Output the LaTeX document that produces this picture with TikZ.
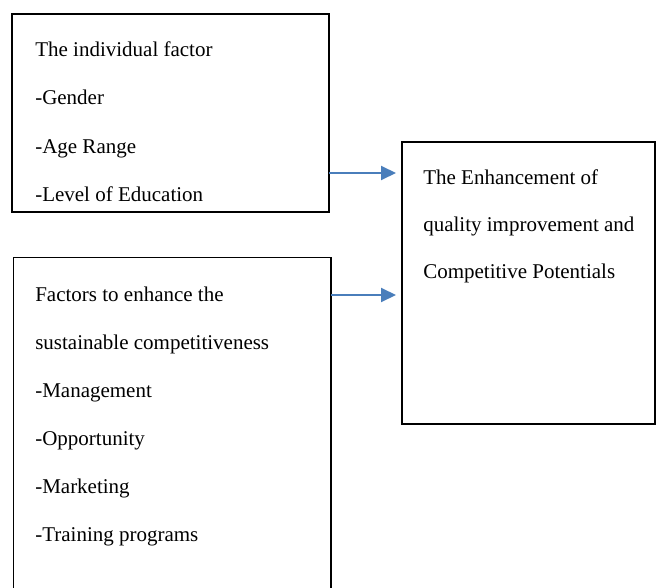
\documentclass[tikz,border=0pt]{standalone}
\usepackage{fontspec}
\setmainfont{Liberation Serif}
\usetikzlibrary{arrows.meta}
\definecolor{arrowblue}{RGB}{74,126,187}
\begin{document}
\begin{tikzpicture}[x=0.75pt,y=-0.75pt,
  box/.style={draw=black,line width=1pt,inner sep=0pt,outer sep=0pt,anchor=north west},
  txt/.style={anchor=base west,inner sep=0pt,font=\fontsize{15.75pt}{18pt}\selectfont},
  conn/.style={draw=arrowblue,line width=1.5pt,-{Triangle[length=11.25pt,width=10.5pt]}}]
\useasboundingbox (0,0) rectangle (656,588);
\clip (0,0) rectangle (656,588);
\fill[white] (0,0) rectangle (656,588);
% boxes
\node[box,minimum width=317*0.75pt,minimum height=198*0.75pt] (b1) at (12,14) {};
\node[box,minimum width=317.5*0.75pt,minimum height=360*0.75pt] (b2) at (13.5,257.7) {};
\node[box,minimum width=253*0.75pt,minimum height=282*0.75pt] (b3) at (402,142) {};
% texts box 1
\node[txt] (t11) at (35,57) {The individual factor};
\node[txt] (t12) at (35,105) {-Gender};
\node[txt] (t13) at (35,153) {-Age Range};
\node[txt] (t14) at (35,201) {-Level of Education};
% texts box 2
\node[txt] (t21) at (35,301) {Factors to enhance the};
\node[txt] (t22) at (35,349) {sustainable competitiveness};
\node[txt] (t23) at (35,397) {-Management};
\node[txt] (t24) at (35,445) {-Opportunity};
\node[txt] (t25) at (35,493) {-Marketing};
\node[txt] (t26) at (35,541) {-Training programs};
% texts box 3
\node[txt] (t31) at (423,184) {The Enhancement of};
\node[txt] (t32) at (423,231) {quality improvement and};
\node[txt] (t33) at (423,278) {Competitive Potentials};
% connectors
\coordinate (a1) at (b1.east |- 0,173);
\coordinate (a2) at (b2.east |- 0,295);
\draw[conn,shorten >=6*0.75pt] (a1) -- (b3.west |- a1);
\draw[conn,shorten >=6*0.75pt] (a2) -- (b3.west |- a2);
\end{tikzpicture}
\end{document}
